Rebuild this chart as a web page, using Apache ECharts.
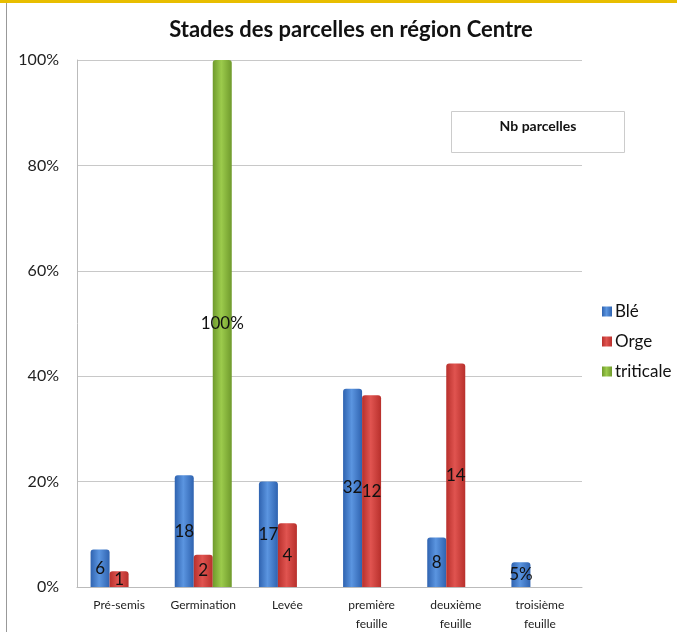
<!DOCTYPE html>
<html>
<head>
<meta charset="utf-8">
<script src="https://cdn.jsdelivr.net/npm/echarts@6/dist/echarts.min.js"></script>
<style>
    html, body { margin: 0; padding: 0; background: #fff; }
    #chart { width: 677px; height: 632px; }
</style>
</head>
<body>
<div id="chart"></div>
<script>
// stades
const categories = ['Pré-semis', 'Germination', 'Levée', 'première\nfeuille', 'deuxième\nfeuille', 'troisième\nfeuille']

// pourcentages
const bleValues = [7.1, 21.2, 20.0, 37.6, 9.4, 4.7]
const orgeValues = [3.0, 6.1, 12.1, 36.4, 42.4, null]
const triticaleValues = [null, 100, null, null, null, null]

// étiquettes affichées (nb parcelles)
const bleLabels = ['6', '18', '17', '32', '8', '5%']
const orgeLabels = ['1', '2', '4', '12', '14', '']
const triticaleLabels = ['', '100%', '', '', '', '']

const yTicks = [0, 20, 40, 60, 80, 100]

const FONT = 'Lato, "Open Sans", sans-serif'

function cylinder(dark, light) {
    return new echarts.graphic.LinearGradient(0, 0, 1, 0, [
        { offset: 0, color: dark },
        { offset: 0.45, color: light },
        { offset: 1, color: dark },
    ])
}

function makeSeries(name, values, labels, dark, light) {
    return {
        name: name,
        type: 'bar',
        barWidth: 19,
        barGap: '0%',
        data: values,
        itemStyle: {
            color: cylinder(dark, light),
            borderRadius: [3, 3, 0, 0],
        },
        label: {
            show: true,
            position: 'inside',
            color: '#111',
            fontSize: 17,
            fontFamily: FONT,
            formatter: function (p) {
                return labels[p.dataIndex]
            },
        },
    }
}

function draw() {
    const chart = echarts.init(document.getElementById('chart'))
    chart.setOption({
        backgroundColor: '#fff',
        animation: false,
        title: {
            text: 'Stades des parcelles en région Centre',
            left: 346,
            textAlign: 'center',
            top: 14,
            textStyle: {
                fontSize: 22,
                fontWeight: 'bold',
                color: '#111',
                fontFamily: FONT,
            },
        },
        legend: {
            orient: 'vertical',
            left: 597,
            top: 298,
            itemWidth: 10,
            itemHeight: 10,
            itemGap: 13,
            icon: 'rect',
            textStyle: { fontSize: 17, color: '#111', fontFamily: FONT, padding: [0, 0, 0, -2] },
            data: ['Blé', 'Orge', 'triticale'],
        },
        grid: {
            left: 77,
            right: 95,
            top: 60,
            bottom: 45,
            containLabel: false,
            outerBoundsMode: 'none',
        },
        xAxis: {
            type: 'category',
            data: categories,
            axisLine: { lineStyle: { color: '#bbb' } },
            axisTick: { show: false },
            axisLabel: {
                color: '#222',
                fontSize: 12,
                fontFamily: FONT,
                interval: 0,
                margin: 9,
                lineHeight: 19,
            },
        },
        yAxis: {
            type: 'value',
            min: yTicks[0],
            max: yTicks[yTicks.length - 1],
            interval: 20,
            axisLine: { show: true, lineStyle: { color: '#bbb' } },
            axisTick: { show: false },
            splitLine: { lineStyle: { color: '#c8c8c8' } },
            axisLabel: {
                color: '#222',
                fontSize: 16,
                fontFamily: FONT,
                margin: 18,
                formatter: '{value}%',
            },
        },
        graphic: [
            {
                type: 'rect',
                shape: { x: 0, y: 0, width: 677, height: 3 },
                style: { fill: '#e8be00' },
            },
            {
                type: 'rect',
                shape: { x: 6, y: 3, width: 1, height: 629 },
                style: { fill: '#999' },
            },
            {
                type: 'rect',
                shape: { x: 451.5, y: 111.5, width: 173, height: 41 },
                style: { fill: '#fff', stroke: '#ccc', lineWidth: 1 },
            },
            {
                type: 'text',
                x: 538,
                y: 119,
                style: {
                    text: 'Nb parcelles',
                    fill: '#111',
                    font: 'bold 14px ' + FONT,
                    textAlign: 'center',
                },
            },
        ],
        series: [
            makeSeries('Blé', bleValues, bleLabels, '#2f63b0', '#5b95e0'),
            makeSeries('Orge', orgeValues, orgeLabels, '#b8302c', '#e05450'),
            makeSeries('triticale', triticaleValues, triticaleLabels, '#6f9a2c', '#9ccb4c'),
        ],
    })
}

draw()
</script>
</body>
</html>
